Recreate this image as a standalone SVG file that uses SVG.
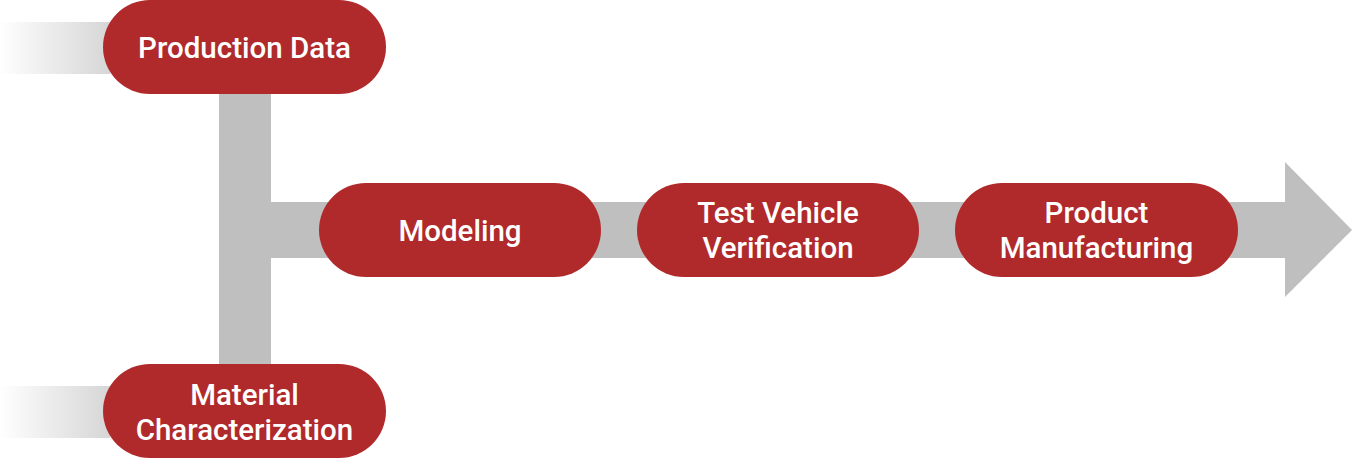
<svg xmlns="http://www.w3.org/2000/svg" width="1354" height="466" viewBox="0 0 1354 466">
<defs>
<linearGradient id="fade" x1="0" y1="0" x2="1" y2="0">
<stop offset="0" stop-color="#ffffff"/>
<stop offset="1" stop-color="#d6d6d6"/>
</linearGradient>
<style>
.pill{fill:#b0292b}
.bar{fill:#bfbfbf}
.lbl{fill:#ffffff;font-family:Roboto,"Liberation Sans",sans-serif;font-weight:500;font-size:29.5px;text-anchor:middle}
</style>
</defs>
<g id="connectors">
<rect x="0" y="22" width="110" height="52" fill="url(#fade)"/>
<rect x="0" y="386" width="110" height="52" fill="url(#fade)"/>
<rect class="bar" x="219" y="90" width="52" height="280"/>
<path class="bar" d="M271 202 H1285 V162 L1352 230 L1285 297 V258 H271 Z"/>
</g>
<g id="production-data">
<rect class="pill" x="103" y="0" width="283" height="94" rx="47"/>
<text class="lbl" x="244.5" y="58">Production Data</text>
</g>
<g id="material-characterization">
<rect class="pill" x="103" y="364" width="283" height="94" rx="47"/>
<text class="lbl" x="244.5" y="405">Material</text>
<text class="lbl" x="244.5" y="440">Characterization</text>
</g>
<g id="modeling">
<rect class="pill" x="319" y="183" width="282" height="94" rx="47"/>
<text class="lbl" x="460" y="241">Modeling</text>
</g>
<g id="test-vehicle-verification">
<rect class="pill" x="637" y="183" width="282" height="94" rx="47"/>
<text class="lbl" x="778" y="223">Test Vehicle</text>
<text class="lbl" x="778" y="257.5">Verification</text>
</g>
<g id="product-manufacturing">
<rect class="pill" x="955" y="183" width="283" height="94" rx="47"/>
<text class="lbl" x="1096.5" y="223">Product</text>
<text class="lbl" x="1096.5" y="257.5">Manufacturing</text>
</g>
</svg>
